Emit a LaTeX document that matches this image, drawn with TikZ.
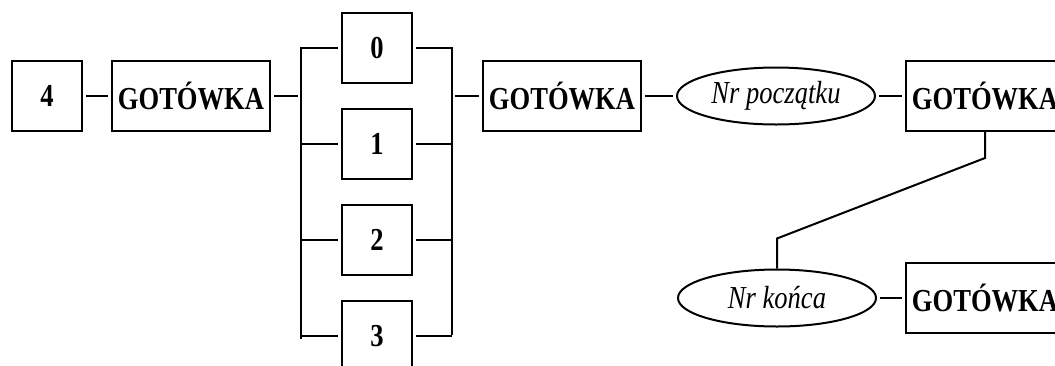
\documentclass[tikz,border=0pt]{standalone}
\usepackage{fontspec}
\setmainfont{Liberation Serif}[FakeStretch=0.83]
\usetikzlibrary{shapes.geometric}

\begin{document}
\begin{tikzpicture}[x=1pt,y=-1pt,line width=2pt,
   box/.style={draw,rectangle,minimum width=70pt,minimum height=70pt,inner sep=0pt,font=\fontsize{32}{36}\selectfont\bfseries},
   wide/.style={box,minimum width=158pt},
   oval/.style={draw,ellipse,minimum width=198pt,minimum height=57pt,inner sep=0pt,font=\fontsize{32}{36}\selectfont\itshape},
   link/.style={shorten >=3pt,shorten <=3pt}]
\useasboundingbox (0,0) rectangle (1055,365);
      \node [box] at (47,96) (four) {4};
       \node [wide] at (191,96) (got a) {GOTÓWKA};
        \node [box] at (377,48) (d0) {0};
         \node [box] at (377,144) (d1) {1};
          \node [box] at (377,240) (d2) {2};
           \node [box] at (377,336) (d3) {3};
            \node [wide] at (562,96) (got b) {GOTÓWKA};
             \node [oval] at (776,96) (poczatek) {Nr początku};
              \node [wide] at (985,96) (got c) {GOTÓWKA};
               \node [oval] at (777,298) (koniec) {Nr końca};
                \node [wide] at (985,298) (got d) {GOTÓWKA};
                 \coordinate (lt) at (301,47);
                  \coordinate (lb) at (301,339);
                   \coordinate (rt) at (452,47);
                    \coordinate (rb) at (452,335);
%
%
\draw (lt) -- (lb);
\draw (rt) -- (rb);
\draw[link] (four) -- (got a);
\draw[link] (got a) -- (got a -| lt);
\foreach \i in {0,...,3} {
  \draw[shorten >=3pt] (lt |- d\i) -- (d\i);
  \draw[shorten <=3pt] (d\i) -- (rt |- d\i);
}
\draw[link] (rt |- got b) -- (got b);
\draw[link] (got b) -- (poczatek);
\draw[link] (poczatek) -- (got c);
\draw[link] (koniec) -- (got d);
\draw (got c.south) -- ++(0,26) -- ([yshift=30pt]koniec.north) -- (koniec.north);

\end{tikzpicture}
\end{document}
